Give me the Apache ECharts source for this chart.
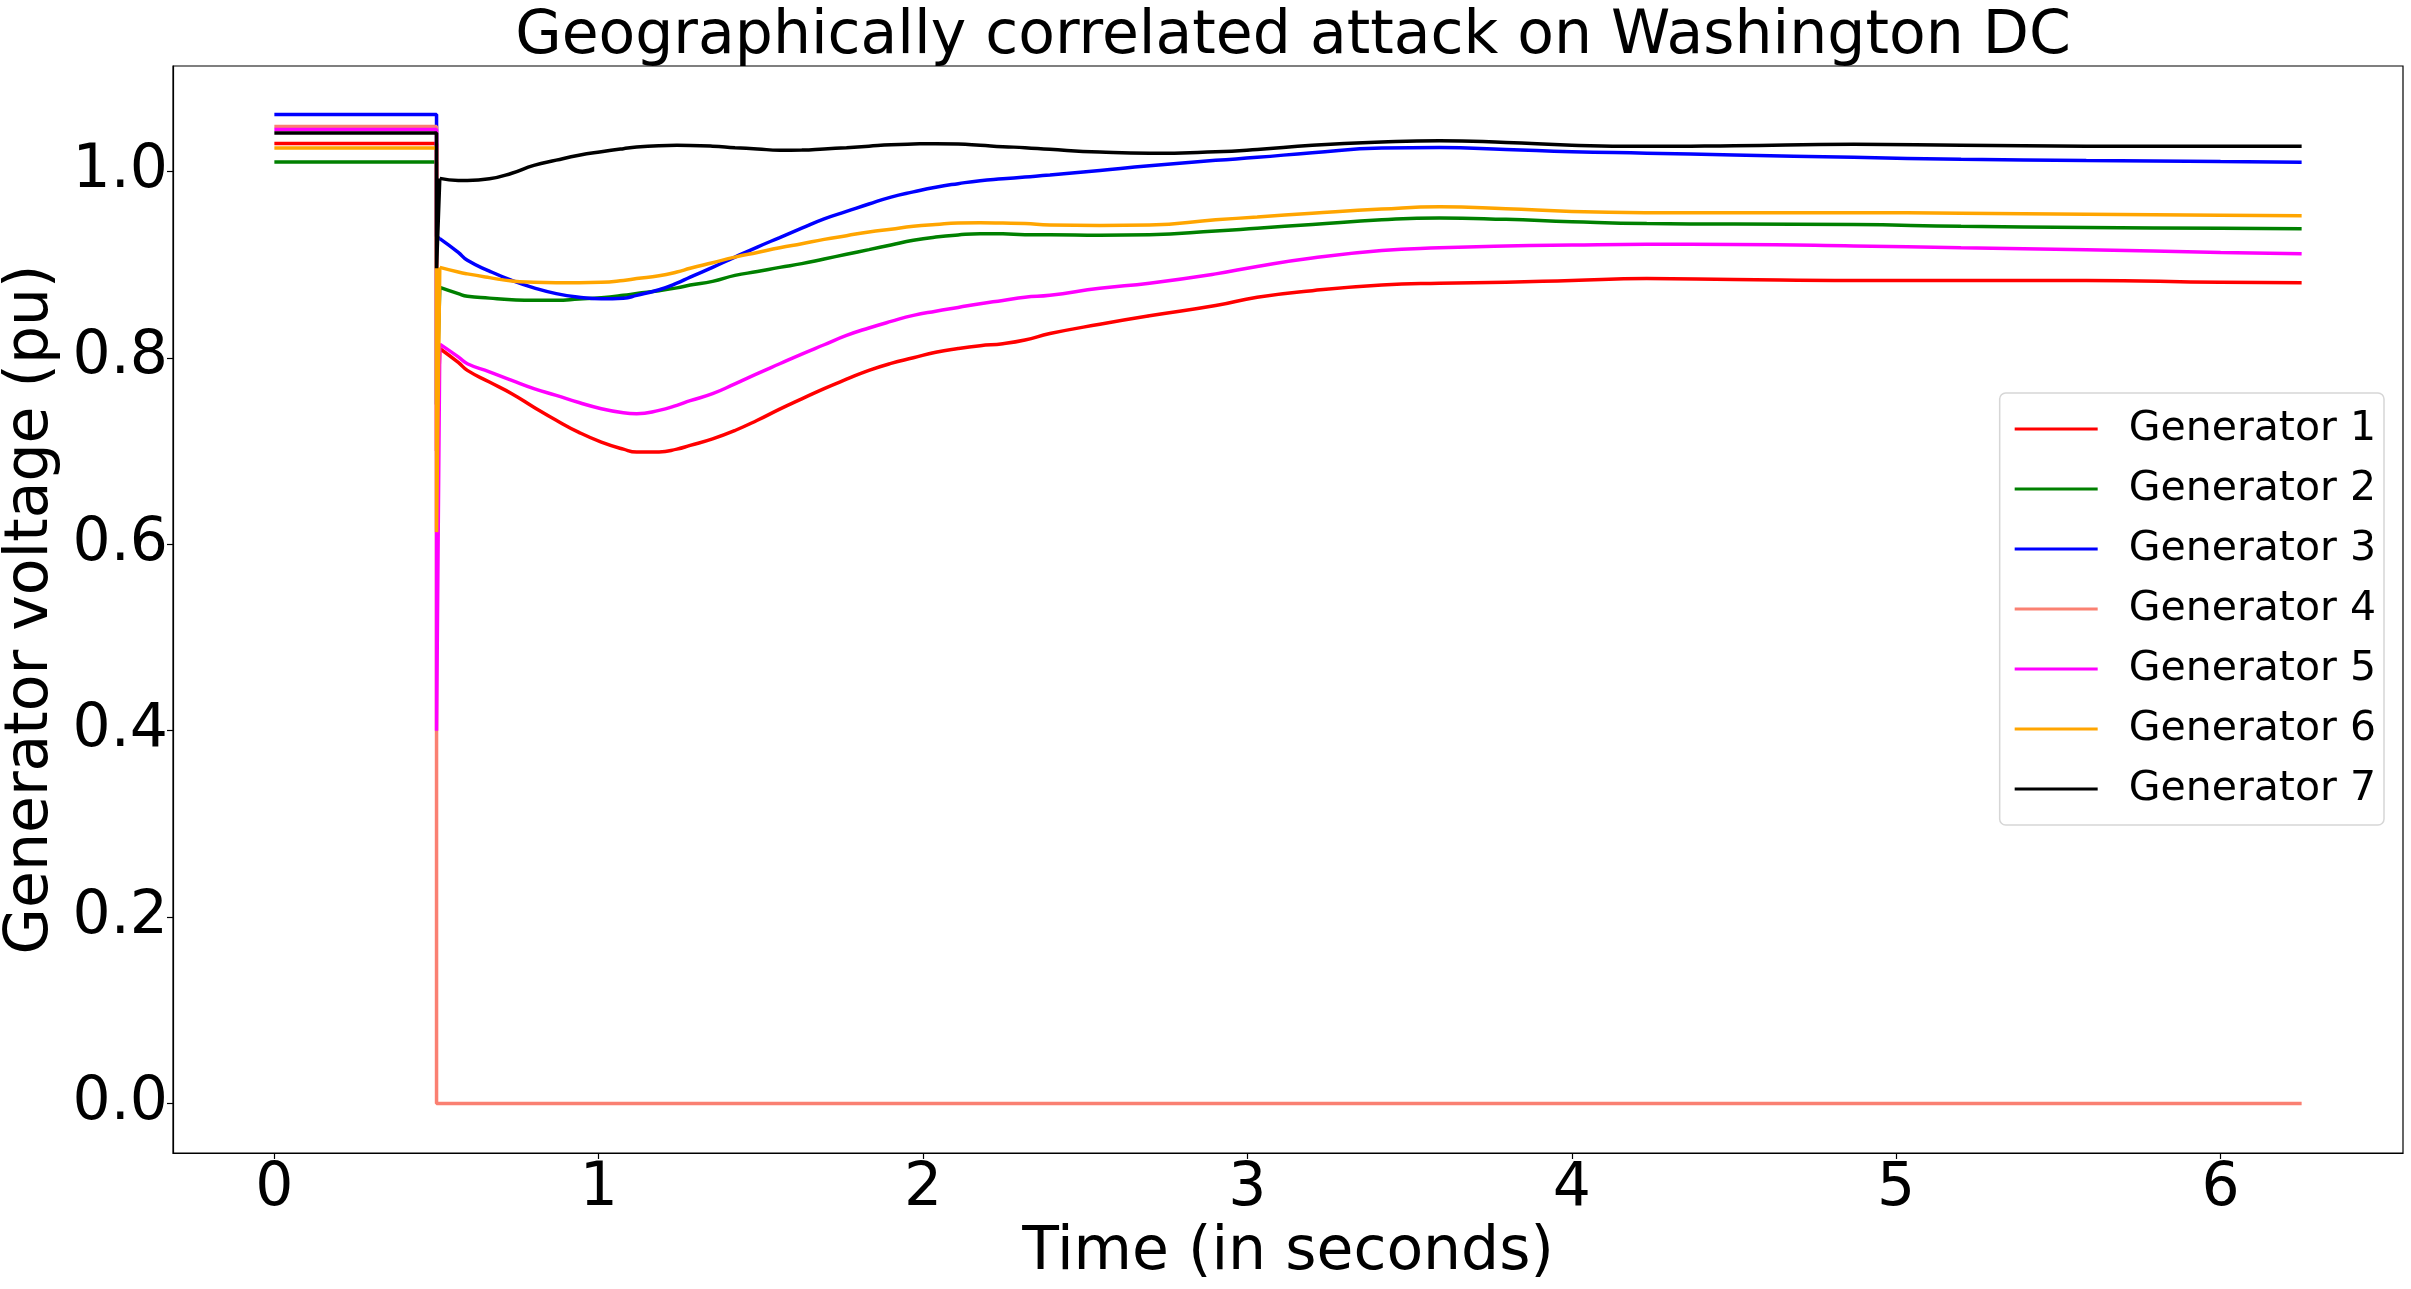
<!DOCTYPE html>
<html>
<head>
<meta charset="utf-8">
<script src="https://cdn.jsdelivr.net/npm/echarts@6/dist/echarts.min.js"></script>
<style>
html,body{margin:0;padding:0;background:#fff;}
#chart{width:2411px;height:1289px;}
</style>
</head>
<body>
<div id="chart"></div>
<script>
const titleText = 'Geographically correlated attack on Washington DC';
const xLabel = 'Time (in seconds)';
const yLabel = 'Generator voltage (pu)';
const names = ['Generator 1','Generator 2','Generator 3','Generator 4','Generator 5','Generator 6','Generator 7'];
const colors = ['#ff0000','#008000','#0000ff','#fa8072','#ff00ff','#ffa500','#000000'];
const xTicks = [0,1,2,3,4,5,6];
const yTicks = [0,0.2,0.4,0.6,0.8,1.0];

const tFault = 0.5;
const tEnd = 6.25;
const preFault = [1.030, 1.010, 1.061, 1.048, 1.045, 1.025, 1.041];
const faultDip = [0.70, 0.75, 0.93, 0.0, 0.40, 0.613, 0.896];

const tPost = [0.51,0.567,0.595,0.663,0.732,0.80,0.869,0.939,1.008,1.076,1.117,1.186,1.241,1.282,1.351,1.42,1.489,1.558,1.626,1.695,1.764,1.833,1.901,1.970,2.039,2.108,2.176,2.246,2.314,2.391,2.545,2.698,2.902,3.03,3.2,3.414,3.592,3.797,4.0,4.231,4.5,4.869,5.2,5.586,6.0,6.25];

const gen1 = [0.810,0.795,0.7865,0.774,0.7615,0.747,0.733,0.720,0.7096,0.702,0.699,0.699,0.702,0.706,0.713,0.722,0.733,0.745,0.756,0.767,0.777,0.7865,0.794,0.800,0.806,0.810,0.813,0.8151,0.819,0.826,0.836,0.845,0.856,0.865,0.872,0.878,0.880,0.881,0.883,0.885,0.884,0.883,0.883,0.883,0.881,0.8806];
const gen2 = [0.8755,0.8688,0.866,0.864,0.8623,0.8616,0.8616,0.863,0.8645,0.867,0.869,0.872,0.875,0.878,0.882,0.8884,0.8925,0.897,0.901,0.906,0.911,0.916,0.921,0.926,0.9295,0.9318,0.9331,0.933,0.932,0.932,0.9315,0.932,0.936,0.939,0.943,0.948,0.950,0.9485,0.946,0.944,0.9435,0.943,0.941,0.9398,0.939,0.9385];
const gen3 = [0.9278,0.913,0.9045,0.893,0.883,0.875,0.8688,0.865,0.8634,0.864,0.867,0.873,0.880,0.8866,0.897,0.908,0.9188,0.929,0.939,0.949,0.957,0.965,0.9724,0.978,0.983,0.9868,0.990,0.992,0.9939,0.996,1.001,1.006,1.0118,1.015,1.020,1.025,1.0255,1.0235,1.021,1.0195,1.0175,1.015,1.013,1.0115,1.0105,1.0097];
const gen4 = [0.0,0.0,0.0,0.0,0.0,0.0,0.0,0.0,0.0,0.0,0.0,0.0,0.0,0.0,0.0,0.0,0.0,0.0,0.0,0.0,0.0,0.0,0.0,0.0,0.0,0.0,0.0,0.0,0.0,0.0,0.0,0.0,0.0,0.0,0.0,0.0,0.0,0.0,0.0,0.0,0.0,0.0,0.0,0.0,0.0,0.0];
const gen5 = [0.8147,0.801,0.7936,0.785,0.7758,0.767,0.7597,0.752,0.7454,0.741,0.740,0.7436,0.749,0.754,0.7615,0.772,0.783,0.7936,0.804,0.814,0.824,0.832,0.839,0.8455,0.850,0.854,0.858,0.8615,0.865,0.867,0.8745,0.880,0.890,0.898,0.907,0.915,0.918,0.920,0.921,0.9217,0.9215,0.920,0.918,0.916,0.913,0.9117];
const gen6 = [0.897,0.892,0.890,0.886,0.8823,0.881,0.8806,0.8806,0.881,0.883,0.885,0.888,0.892,0.896,0.902,0.908,0.913,0.918,0.9224,0.927,0.931,0.935,0.938,0.941,0.943,0.9446,0.9448,0.9445,0.944,0.9424,0.942,0.9425,0.948,0.951,0.955,0.9595,0.962,0.960,0.957,0.9557,0.9555,0.9557,0.955,0.954,0.953,0.9525];
const gen7 = [0.9925,0.9903,0.9903,0.992,0.998,1.0064,1.012,1.0172,1.021,1.0243,1.026,1.0275,1.0279,1.0278,1.027,1.0254,1.024,1.0227,1.0228,1.024,1.0254,1.027,1.0285,1.0293,1.0297,1.0293,1.028,1.0265,1.0254,1.0236,1.0207,1.0193,1.021,1.0235,1.028,1.0315,1.0329,1.031,1.028,1.0268,1.0275,1.029,1.028,1.027,1.0268,1.0268];

const postValues = [gen1, gen2, gen3, gen4, gen5, gen6, gen7];

const FONT = 'DejaVu Sans';
const LW = 3.5;

const series = [];
names.forEach((name, i) => {
  const post = postValues[i];
  // pre-fault level and the drop at the fault instant (straight segments)
  const stepData = [[0, preFault[i]], [tFault, preFault[i]], [tFault, faultDip[i]], [tPost[0], post[0]]];
  if (i === 3) stepData[3] = [tEnd, post[post.length - 1]];
  series.push({
    name: name, type: 'line', data: stepData,
    symbol: 'none', showSymbol: false, smooth: false,
    lineStyle: { color: colors[i], width: LW },
    itemStyle: { color: colors[i] },
    emphasis: { disabled: true }, silent: true, animation: false, z: 2 + i
  });
  if (i !== 3) {
    series.push({
      name: name, type: 'line', data: tPost.map((t, k) => [t, post[k]]),
      symbol: 'none', showSymbol: false, smooth: 0.5,
      lineStyle: { color: colors[i], width: LW },
      itemStyle: { color: colors[i] },
      emphasis: { disabled: true }, silent: true, animation: false, z: 2 + i
    });
  }
});

const chart = echarts.init(document.getElementById('chart'), null, { renderer: 'canvas' });
chart.setOption({
  backgroundColor: '#ffffff',
  animation: false,
  title: {
    text: titleText,
    left: 1288,
    textAlign: 'center',
    top: 2,
    textStyle: { fontFamily: FONT, fontSize: 60, fontWeight: 'normal', color: '#000' }
  },
  grid: {
    left: 173, right: 8, top: 66, bottom: 136,
    containLabel: false, outerBoundsMode: 'none',
    show: true, borderColor: '#000', borderWidth: 1.2, backgroundColor: 'transparent'
  },
  legend: {
    orient: 'vertical',
    right: 27,
    top: 393,
    padding: [12, 8, 12, 15],
    itemGap: 12,
    itemWidth: 83,
    itemHeight: 3,
    icon: 'rect',
    backgroundColor: '#ffffff',
    borderColor: '#d6d6d6',
    borderWidth: 1.5,
    borderRadius: 6,
    textStyle: { fontFamily: FONT, fontSize: 41, color: '#000', lineHeight: 48, padding: [0, 0, 0, 26] },
    data: names.map((n, i) => ({ name: n, itemStyle: { color: colors[i] } }))
  },
  xAxis: {
    type: 'value',
    min: -0.3125,
    max: 6.5625,
    name: xLabel,
    nameLocation: 'middle',
    nameGap: 62,
    nameTextStyle: { fontFamily: FONT, fontSize: 60, color: '#000' },
    axisLine: { show: true, onZero: false, lineStyle: { color: '#000', width: 1.2 } },
    axisTick: { show: true, inside: false, length: 6, customValues: xTicks, lineStyle: { color: '#000', width: 1.2 } },
    axisLabel: { show: true, margin: 6, customValues: xTicks, fontFamily: FONT, fontSize: 60, color: '#000', formatter: v => String(v) },
    splitLine: { show: false }
  },
  yAxis: {
    type: 'value',
    min: -0.053,
    max: 1.113,
    name: yLabel,
    nameLocation: 'middle',
    nameGap: 108,
    nameRotate: 90,
    nameTextStyle: { fontFamily: FONT, fontSize: 60, color: '#000' },
    axisLine: { show: true, onZero: false, lineStyle: { color: '#000', width: 1.2 } },
    axisTick: { show: true, inside: false, length: 6, customValues: yTicks, lineStyle: { color: '#000', width: 1.2 } },
    axisLabel: { show: true, margin: 5, customValues: yTicks, fontFamily: FONT, fontSize: 60, color: '#000', formatter: v => Number(v).toFixed(1) },
    splitLine: { show: false }
  },
  series: series
});
</script>
</body>
</html>
